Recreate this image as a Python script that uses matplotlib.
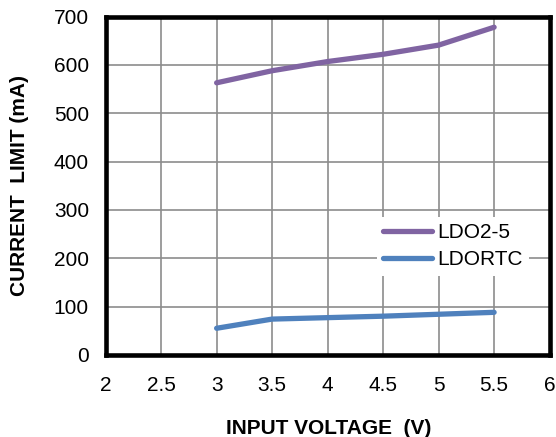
import matplotlib

matplotlib.use("Agg")
import matplotlib.pyplot as plt

# Data
input_voltage = [3.0, 3.5, 4.0, 4.5, 5.0, 5.5]
ldo2_5 = [563, 588, 607, 622, 641, 678]
ldortc = [55, 74, 77, 80, 84, 88]

x_ticks = [2, 2.5, 3, 3.5, 4, 4.5, 5, 5.5, 6]
x_tick_labels = ["2", "2.5", "3", "3.5", "4", "4.5", "5", "5.5", "6"]
y_ticks = [0, 100, 200, 300, 400, 500, 600, 700]

plt.rcParams["font.family"] = ["Liberation Sans", "DejaVu Sans"]

fig = plt.figure(figsize=(5.56, 4.37), dpi=100)
ax = fig.add_axes([0.19, 0.188, 0.7985, 0.774])

ax.plot(input_voltage, ldo2_5, color="#8064A2", linewidth=3.8,
        solid_capstyle="round", label="LDO2-5", zorder=3)
ax.plot(input_voltage, ldortc, color="#4F81BD", linewidth=3.8,
        solid_capstyle="round", label="LDORTC", zorder=3)

ax.set_xlim(2, 6)
ax.set_ylim(0, 700)
ax.set_xticks(x_ticks)
ax.set_xticklabels(x_tick_labels)
ax.set_yticks(y_ticks)
ax.grid(True, color="#8c8c8c", linewidth=1.2)
ax.set_axisbelow(True)
ax.tick_params(axis="x", length=0, labelsize=15, pad=15)
ax.tick_params(axis="y", length=0, labelsize=15, pad=12)

for s in ax.spines.values():
    s.set_linewidth(3.3)
    s.set_color("black")

ax.set_xlabel("INPUT VOLTAGE  (V)", fontsize=15, fontweight="bold", va="center")
ax.set_ylabel("CURRENT  LIMIT (mA)", fontsize=15, fontweight="bold", va="center")
ax.xaxis.set_label_coords(0.502, -0.2166)
ax.yaxis.set_label_coords(-0.193, 0.5)

leg = ax.legend(loc="upper left", bbox_to_anchor=(0.611, 0.408), frameon=True,
                fontsize=15, handlelength=2.35, handletextpad=0.25,
                borderpad=0.3, borderaxespad=0, labelspacing=0.4,
                fancybox=False)
leg.get_frame().set_edgecolor("none")
leg.get_frame().set_facecolor("white")
leg.get_frame().set_alpha(1)

fig.savefig("out.png", dpi=100)
